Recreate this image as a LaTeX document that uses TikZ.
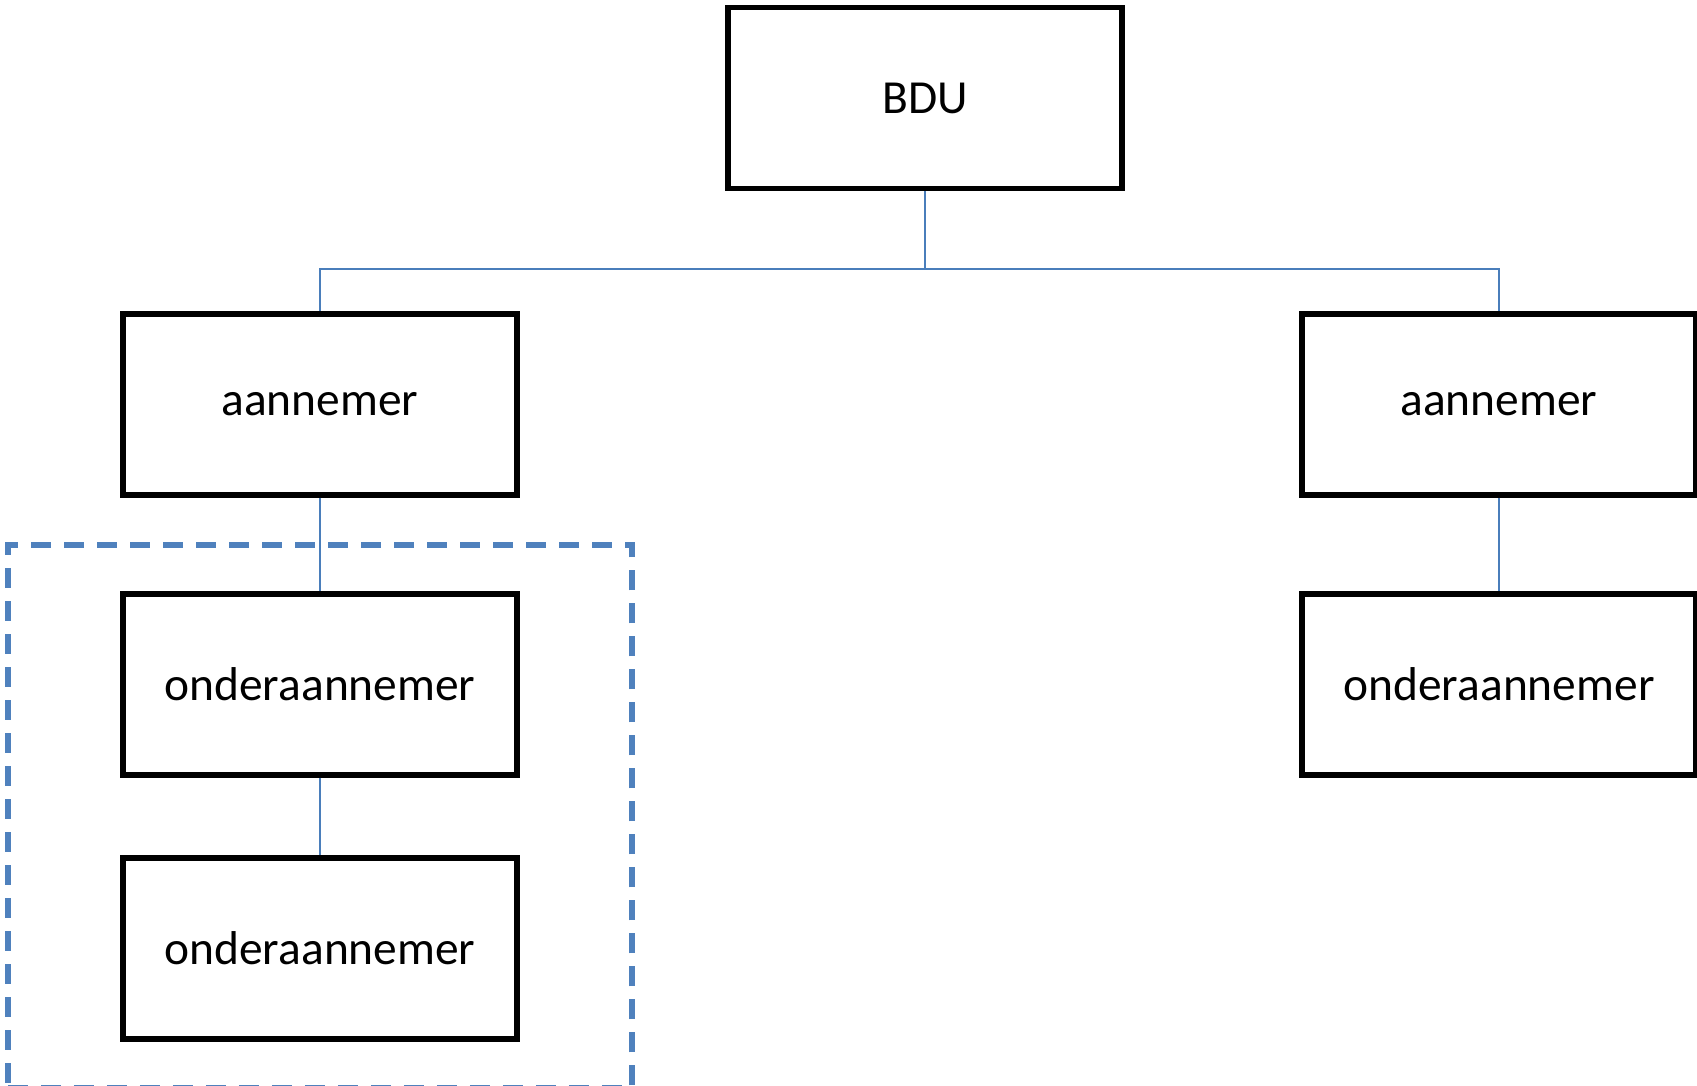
\documentclass[tikz,border=0pt]{standalone}
\usepackage{fontspec}
\setmainfont{Carlito}
\usetikzlibrary{arrows,positioning,shapes,fit,calc}
\definecolor{linkblue}{HTML}{4A7EBB}
\definecolor{groupblue}{HTML}{4F81BD}

\begin{document}
\begin{tikzpicture}[node distance=3cm,on grid,
    party/.style={draw=black,line width=1.5pt,minimum width=3.94cm,minimum height=1.81cm,
      font=\fontsize{13.5pt}{16pt}\selectfont},
    link/.style={draw=linkblue,line width=0.5pt},
    grouped/.style={draw=groupblue,line width=1.6pt,dash pattern=on 0.2cm off 0.13cm}]
   \useasboundingbox (0,0) rectangle (16.97,-10.85);
   \node[party] (bdu) at (9.25,-0.98) {BDU};
   \node [party] (a1) [below left =3.065cm and 6.05cm of bdu] {aannemer};
   \node [party] (a2) [below right =3.065cm and 5.74cm of bdu] {aannemer};
   \node [party] (o1) [below =2.8cm of a1] {onderaannemer};
   \node [party] (o2) [below =2.64cm of o1] {onderaannemer};
   \node [party] (o3) [below =2.8cm of a2] {onderaannemer};
   \coordinate (split) at ($(bdu.south)+(0,-0.78)$);
    \path[link] 
    (bdu.south) edge (split)
    (split) edge [to path={-| (\tikztotarget)}] (a1.north)
            edge [to path={-| (\tikztotarget)}] (a2.north)
    (a1) edge (o1)
    (o1) edge (o2)
    (a2) edge (o3);
   \node[grouped,fit=(o1)(o2),inner xsep=1.125cm,inner ysep=0.465cm] (group) {};
\end{tikzpicture}
\end{document}
